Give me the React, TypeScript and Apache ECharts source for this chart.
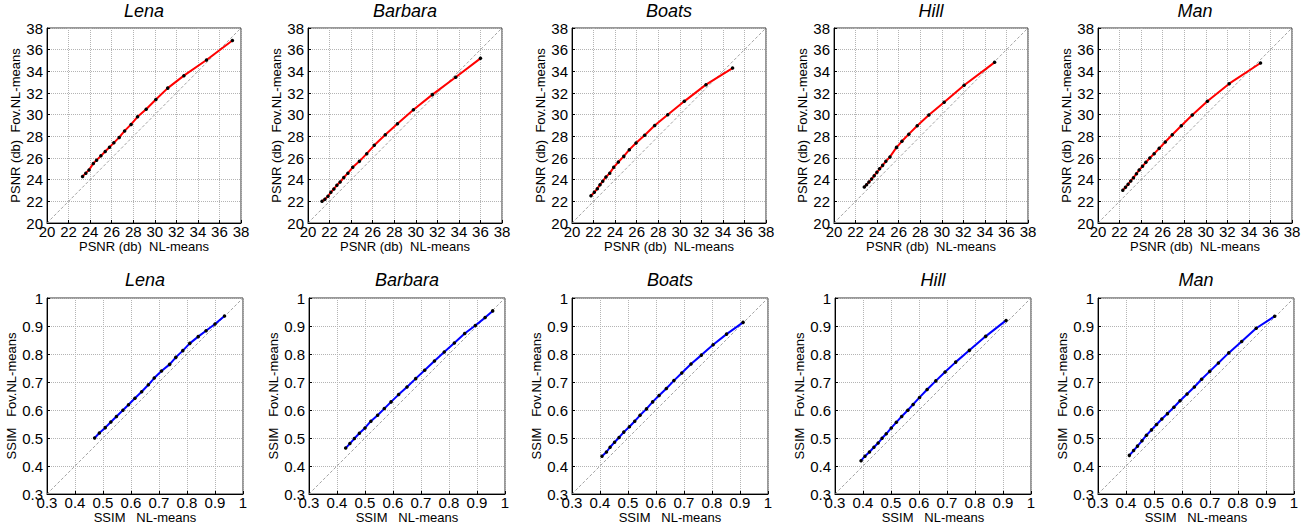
import React, { useEffect, useRef } from "react";
import * as echarts from "echarts";

const imageNames = ["Lena", "Barbara", "Boats", "Hill", "Man"];

// PSNR (top row): x = NL-means, y = Fov. NL-means
const lenaPsnrX = [23.3, 23.6, 23.9, 24.3, 24.6, 25.0, 25.4, 25.8, 26.2, 26.7, 27.2, 27.8, 28.4, 29.2, 30.1, 31.2, 32.7, 34.8, 37.2];
const lenaPsnrY = [24.3, 24.6, 24.9, 25.5, 25.8, 26.2, 26.6, 27.0, 27.4, 27.9, 28.5, 29.1, 29.8, 30.5, 31.4, 32.45, 33.6, 35.05, 36.85];
const barbaraPsnrX = [21.3, 21.57, 21.85, 22.12, 22.4, 22.68, 22.98, 23.32, 23.7, 24.15, 24.77, 25.45, 26.15, 27.17, 28.3, 29.78, 31.54, 33.7, 36.0];
const barbaraPsnrY = [22.0, 22.2, 22.46, 22.83, 23.14, 23.48, 23.78, 24.2, 24.6, 25.14, 25.69, 26.4, 27.17, 28.15, 29.17, 30.46, 31.85, 33.45, 35.2];
const boatsPsnrX = [21.76, 22.07, 22.35, 22.6, 22.85, 23.15, 23.5, 23.87, 24.3, 24.8, 25.32, 25.94, 26.74, 27.67, 28.88, 30.42, 32.43, 34.9];
const boatsPsnrY = [22.52, 22.83, 23.17, 23.54, 23.85, 24.25, 24.6, 25.14, 25.63, 26.15, 26.77, 27.38, 28.1, 29.0, 30.0, 31.23, 32.77, 34.3];
const hillPsnrX = [22.81, 23.02, 23.24, 23.49, 23.73, 23.98, 24.23, 24.51, 24.81, 25.19, 25.8, 26.3, 26.94, 27.72, 28.8, 30.22, 32.07, 34.9];
const hillPsnrY = [23.32, 23.54, 23.78, 24.06, 24.37, 24.68, 25.0, 25.32, 25.69, 26.1, 26.98, 27.54, 28.2, 28.98, 29.97, 31.14, 32.71, 34.83];
const manPsnrX = [22.3, 22.55, 22.79, 23.04, 23.29, 23.57, 23.82, 24.13, 24.44, 24.81, 25.21, 25.68, 26.24, 26.89, 27.73, 28.75, 30.15, 32.17, 35.08];
const manPsnrY = [23.02, 23.29, 23.57, 23.88, 24.18, 24.55, 24.89, 25.23, 25.6, 26.0, 26.4, 26.89, 27.48, 28.15, 28.98, 29.97, 31.23, 32.86, 34.77];

// SSIM (bottom row)
const lenaSsimX = [0.47, 0.487, 0.508, 0.528, 0.548, 0.571, 0.591, 0.614, 0.638, 0.662, 0.683, 0.709, 0.738, 0.76, 0.785, 0.81, 0.84, 0.868, 0.9, 0.934];
const lenaSsimY = [0.5, 0.518, 0.537, 0.557, 0.577, 0.599, 0.619, 0.642, 0.665, 0.69, 0.714, 0.739, 0.763, 0.788, 0.812, 0.838, 0.862, 0.883, 0.907, 0.936];
const barbaraSsimX = [0.431, 0.446, 0.462, 0.48, 0.5, 0.521, 0.545, 0.569, 0.593, 0.62, 0.65, 0.681, 0.713, 0.748, 0.783, 0.819, 0.856, 0.894, 0.929, 0.956];
const barbaraSsimY = [0.464, 0.48, 0.498, 0.517, 0.536, 0.56, 0.581, 0.605, 0.629, 0.655, 0.682, 0.712, 0.742, 0.775, 0.807, 0.839, 0.873, 0.902, 0.93, 0.954];
const boatsSsimX = [0.407, 0.423, 0.436, 0.452, 0.468, 0.485, 0.505, 0.524, 0.543, 0.566, 0.588, 0.611, 0.637, 0.664, 0.692, 0.725, 0.762, 0.804, 0.852, 0.911];
const boatsSsimY = [0.435, 0.45, 0.467, 0.485, 0.502, 0.521, 0.54, 0.56, 0.581, 0.604, 0.629, 0.652, 0.677, 0.705, 0.732, 0.764, 0.796, 0.833, 0.871, 0.913];
const hillSsimX = [0.393, 0.407, 0.423, 0.439, 0.454, 0.468, 0.483, 0.501, 0.519, 0.538, 0.56, 0.579, 0.602, 0.629, 0.66, 0.693, 0.731, 0.78, 0.838, 0.911];
const hillSsimY = [0.419, 0.435, 0.45, 0.467, 0.482, 0.499, 0.515, 0.536, 0.556, 0.577, 0.599, 0.62, 0.645, 0.673, 0.704, 0.736, 0.771, 0.813, 0.863, 0.92];
const manSsimX = [0.412, 0.427, 0.441, 0.457, 0.473, 0.491, 0.509, 0.528, 0.548, 0.571, 0.593, 0.618, 0.644, 0.67, 0.699, 0.73, 0.767, 0.813, 0.865, 0.931];
const manSsimY = [0.438, 0.455, 0.471, 0.49, 0.51, 0.529, 0.548, 0.568, 0.587, 0.61, 0.633, 0.657, 0.682, 0.71, 0.738, 0.768, 0.804, 0.845, 0.892, 0.935];

const psnrRange = [20, 38];
const psnrStep = 2;
const ssimRange = [0.3, 1];
const ssimStep = 0.1;

const psnrXName = "PSNR (db)  NL-means";
const psnrYName = "PSNR (db)  Fov.NL-means";
const ssimXName = "SSIM   NL-means";
const ssimYName = "SSIM   Fov.NL-means";

const psnrSets = [
  [lenaPsnrX, lenaPsnrY],
  [barbaraPsnrX, barbaraPsnrY],
  [boatsPsnrX, boatsPsnrY],
  [hillPsnrX, hillPsnrY],
  [manPsnrX, manPsnrY],
];
const ssimSets = [
  [lenaSsimX, lenaSsimY],
  [barbaraSsimX, barbaraSsimY],
  [boatsSsimX, boatsSsimY],
  [hillSsimX, hillSsimY],
  [manSsimX, manSsimY],
];

const FONT = "'Liberation Sans', Arial, Helvetica, sans-serif";

function buildOption() {
  const topLefts = [47, 308, 572, 834, 1098];
  const botLefts = [47, 309, 572, 835, 1098];
  const rows = [
    { lefts: topLefts, top: 28, w: 194, h: 195, sets: psnrSets, range: psnrRange, step: psnrStep, xName: psnrXName, yName: psnrYName, color: "#ff0000", titleTop: 2, yGap: 23, ssim: false },
    { lefts: botLefts, top: 298, w: 196, h: 196, sets: ssimSets, range: ssimRange, step: ssimStep, xName: ssimXName, yName: ssimYName, color: "#0000ff", titleTop: 271, yGap: 26, ssim: true },
  ];
  const grid: any[] = [];
  const xAxis: any[] = [];
  const yAxis: any[] = [];
  const series: any[] = [];
  const title: any[] = [];
  let idx = 0;
  rows.forEach((row) => {
    row.lefts.forEach((left, c) => {
      grid.push({
        left,
        top: row.top,
        width: row.w,
        height: row.h,
        show: true,
        borderColor: "#333",
        borderWidth: 1,
        containLabel: false,
      });
      const fmt = (v: number) => (row.ssim ? String(Math.round(v * 10) / 10) : String(Math.round(v)));
      const common = {
        type: "value",
        gridIndex: idx,
        min: row.range[0],
        max: row.range[1],
        interval: row.step,
        axisLine: { show: true, lineStyle: { color: "#000", width: 1 } },
        axisTick: { show: true, inside: true, length: 3, lineStyle: { color: "#000" } },
        splitLine: { show: true, lineStyle: { type: "dotted", color: "#b4b4b4", width: 1 } },
        nameLocation: "middle",
        nameTextStyle: { fontSize: 13, color: "#000", fontFamily: FONT },
      };
      xAxis.push({
        ...common,
        name: row.xName,
        nameGap: 16,
        axisLabel: { fontSize: 15, color: "#000", fontFamily: FONT, margin: 1, formatter: fmt },
      });
      yAxis.push({
        ...common,
        name: row.yName,
        nameGap: row.yGap,
        axisLabel: { fontSize: 15, color: "#000", fontFamily: FONT, margin: 4, formatter: fmt },
      });
      title.push({
        text: imageNames[c],
        left: left + row.w / 2,
        top: row.titleTop,
        textAlign: "center",
        padding: 0,
        textStyle: { fontSize: 18, fontStyle: "italic", fontWeight: "normal", color: "#000", fontFamily: FONT },
      });
      series.push({
        type: "line",
        xAxisIndex: idx,
        yAxisIndex: idx,
        data: [
          [row.range[0], row.range[0]],
          [row.range[1], row.range[1]],
        ],
        showSymbol: false,
        silent: true,
        lineStyle: { color: "#8c8c8c", width: 0.8, type: [3, 2] },
        z: 1,
      });
      const [xs, ys] = row.sets[c];
      series.push({
        type: "line",
        xAxisIndex: idx,
        yAxisIndex: idx,
        data: xs.map((x: number, i: number) => [x, ys[i]]),
        symbol: "circle",
        symbolSize: 3.5,
        showSymbol: true,
        itemStyle: { color: "#000" },
        lineStyle: { color: row.color, width: 2 },
        z: 3,
      });
      idx++;
    });
  });
  return { animation: false, backgroundColor: "#fff", title, grid, xAxis, yAxis, series };
}

export default function App() {
  const ref = useRef<HTMLDivElement>(null);
  useEffect(() => {
    document.body.style.margin = "0";
    if (!ref.current) return;
    const chart = echarts.init(ref.current, undefined, { renderer: "svg" });
    chart.setOption(buildOption() as any);
    return () => chart.dispose();
  }, []);
  return <div ref={ref} style={{ width: 1315, height: 529 }} />;
}
